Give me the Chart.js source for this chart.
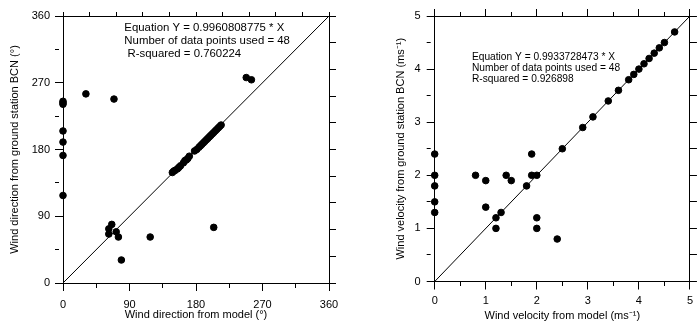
<!DOCTYPE html>
<html>
<head>
    <title>Wind model vs ground station BCN</title>
    <script src="https://cdn.jsdelivr.net/npm/chart.js"></script>
    <style>
        body {
            margin: 0;
            background-color: #ffffff;
        }
        .box {
            position: absolute;
            top: 0;
            width: 349px;
            height: 324px;
        }
        canvas {
            display: block;
        }
    </style>
</head>
<body>
    <div class="box" style="left: 0;"><canvas id="dirChart" width="349" height="324"></canvas></div>
    <div class="box" style="left: 349px;"><canvas id="velChart" width="349" height="324"></canvas></div>

    <script>
        // Wind direction (degrees): model vs ground station
        const dirModel = [0, 0, 0, 0, 0, 0, 0,
            31, 69, 248, 255,
            62, 66, 62, 72, 75, 79, 118, 204,
            148, 150, 152, 155, 157, 159, 163, 165, 167, 169, 171, 178, 181, 184,
            186, 188, 190, 192, 194, 196, 198, 200, 202, 204, 206, 208, 210, 212, 214];
        const dirStation = [243, 245, 241, 205, 190, 172, 118,
            255, 248, 277, 274,
            73, 79, 66, 69, 62, 31, 62, 75,
            149, 151, 152, 154, 156, 158, 162, 165, 166, 168, 171, 178, 180, 183,
            185, 187, 189, 191, 193, 195, 197, 199, 201, 203, 205, 207, 209, 211, 213];

        // Wind velocity (m/s): model vs ground station
        const velModel = [0, 0, 0, 0, 0,
            0.8, 1.0, 1.0, 1.2, 1.2, 1.3, 1.4, 1.5, 1.8, 1.9, 1.9, 2.0, 2.0, 2.0, 2.4,
            2.5, 2.9, 3.1, 3.4, 3.6, 3.8, 3.9, 4.0, 4.1, 4.2, 4.3, 4.4, 4.5, 4.7];
        const velStation = [2.4, 2.0, 1.8, 1.5, 1.3,
            2.0, 1.9, 1.4, 1.2, 1.0, 1.3, 2.0, 1.9, 1.8, 2.0, 2.4, 2.0, 1.2, 1.0, 0.8,
            2.5, 2.9, 3.1, 3.4, 3.6, 3.8, 3.9, 4.0, 4.1, 4.2, 4.3, 4.4, 4.5, 4.7];

        // Labelled (long) ticks; the others are short minor ticks
        const dirTickLabels = [0, 90, 180, 270, 360];
        const velTickLabels = [0, 1, 2, 3, 4, 5];

        const dirNotes = ['Equation Y = 0.9960808775 * X', 'Number of data points used = 48', ' R-squared = 0.760224'];
        const velNotes = ['Equation Y = 0.9933728473 * X', 'Number of data points used = 48', 'R-squared = 0.926898'];

        const FONT = 'Liberation Sans, Arial, sans-serif';

        // Writes the regression notes inside the plot
        const notesPlugin = {
            id: 'notes',
            afterDraw(chart, args, opts) {
                const c = chart.ctx;
                const px = chart.scales.x.getPixelForValue(opts.x);
                const py = chart.scales.y.getPixelForValue(opts.y);
                c.save();
                c.fillStyle = '#000';
                c.font = opts.size + 'px ' + FONT;
                c.textAlign = 'left';
                c.textBaseline = 'middle';
                opts.lines.forEach((t, i) => c.fillText(t, px, py + i * opts.gap));
                c.restore();
            }
        };

        // a: {pos, max, step, labels, major, tick, minorDash, size, pad, title, titlePad}
        function axis(a) {
            const horizontal = a.pos === 'top' || a.pos === 'bottom';
            return {
                type: 'linear',
                position: a.pos,
                min: 0,
                max: a.max,
                ticks: {
                    display: !!a.labels,
                    stepSize: a.step,
                    autoSkip: false,
                    maxRotation: 0,
                    padding: a.pad || 0,
                    color: '#000',
                    font: { family: FONT, size: 11 },
                    callback: v => (a.labels && a.labels.includes(v)) ? String(v) : ''
                },
                grid: {
                    drawOnChartArea: false,
                    drawTicks: true,
                    tickLength: a.tick,
                    tickColor: '#000',
                    color: '#000',
                    tickBorderDash: ctx => (a.major && !a.major.includes(ctx.tick.value)) ? a.minorDash : []
                },
                border: { display: true, color: '#000', width: 1 },
                title: {
                    display: !!a.title,
                    text: a.title || '',
                    color: '#000',
                    padding: { top: a.titlePad || 0, bottom: 0 },
                    font: { family: FONT, size: 11 }
                },
                afterFit: s => {
                    if (horizontal) s.height = a.size; else s.width = a.size;
                }
            };
        }

        function makeChart(id, xs, ys, max, step, labels, cfg) {
            const pts = xs.map((x, i) => ({ x: x, y: ys[i] }));
            return new Chart(document.getElementById(id), {
                type: 'scatter',
                data: {
                    datasets: [{
                        data: pts,
                        backgroundColor: '#000',
                        borderColor: '#000',
                        pointRadius: 3.3,
                        pointHoverRadius: 3.3,
                        clip: false
                    }, {
                        data: [{ x: 0, y: 0 }, { x: max, y: max }],
                        showLine: true,
                        pointRadius: 0,
                        borderColor: '#000',
                        borderWidth: 1
                    }]
                },
                options: {
                    responsive: false,
                    animation: false,
                    events: [],
                    layout: { padding: cfg.padding },
                    plugins: {
                        legend: { display: false },
                        tooltip: { enabled: false },
                        notes: cfg.notes
                    },
                    scales: {
                        x: axis({ pos: 'bottom', max: max, step: step, labels: labels, major: labels,
                            tick: 8, minorDash: [4, 20], size: cfg.xSize, pad: cfg.xPad,
                            title: cfg.xTitle, titlePad: cfg.xTitlePad }),
                        y: axis({ pos: 'left', max: max, step: step, labels: labels, major: labels,
                            tick: 8, minorDash: [4, 20], size: cfg.ySize, pad: cfg.yPad,
                            title: cfg.yTitle, titlePad: 4 }),
                        x2: axis({ pos: 'top', max: max, step: cfg.topStep, major: cfg.topMajor,
                            tick: 7, minorDash: [0, 3, 4, 0], size: 16 }),
                        y2: axis({ pos: 'right', max: max, step: cfg.topStep,
                            tick: 7, size: cfg.y2Size })
                    }
                },
                plugins: [notesPlugin]
            });
        }

        makeChart('dirChart', dirModel, dirStation, 360, 45, dirTickLabels, {
            padding: { left: 4, right: 0, top: 0, bottom: 2.5 },
            xSize: 38.5, ySize: 59, y2Size: 20,
            xPad: 7.5, yPad: 5, xTitlePad: 0,
            topStep: 36, topMajor: [],
            xTitle: 'Wind direction from model (°)',
            yTitle: 'Wind direction from ground station BCN (°)',
            notes: { x: 83, y: 343.6, gap: 12.8, size: 11.4, lines: dirNotes }
        });

        makeChart('velChart', velModel, velStation, 5, 0.5, velTickLabels, {
            padding: { left: 41, right: 0, top: 0, bottom: 1.5 },
            xSize: 41, ySize: 44.7, y2Size: 0.3,
            xPad: 5, yPad: 6, xTitlePad: 0,
            topStep: 0.5, topMajor: velTickLabels,
            xTitle: 'Wind velocity from model (ms⁻¹)',
            yTitle: 'Wind velocity from ground station BCN (ms⁻¹)',
            notes: { x: 0.73, y: 4.22, gap: 10.7, size: 10.2, lines: velNotes }
        });
    </script>
</body>
</html>
